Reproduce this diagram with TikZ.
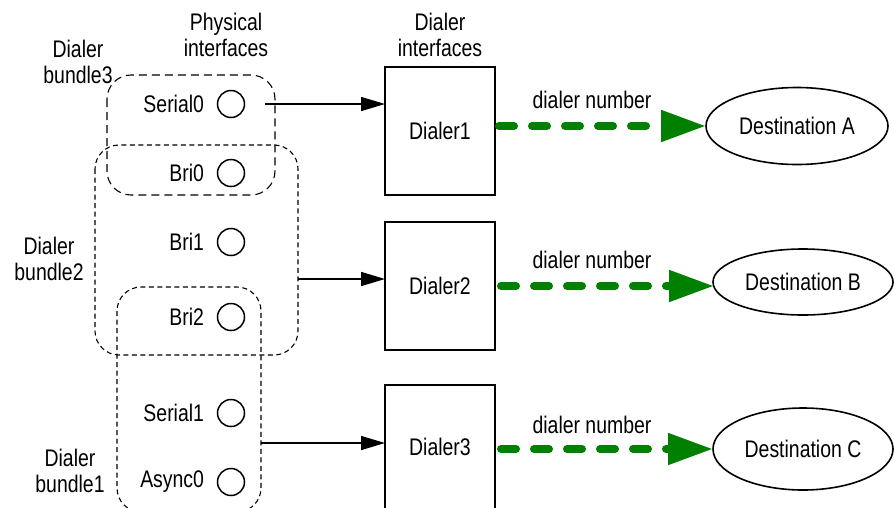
\documentclass[tikz,border=0pt]{standalone}
\usepackage{fontspec}
\setmainfont[FakeStretch=0.81]{Liberation Sans}
\usetikzlibrary{arrows.meta,shapes.geometric}
\definecolor{dgreen}{RGB}{0,128,0}
\begin{document}
\begin{tikzpicture}[x=1pt,y=-1pt,
  every node/.style={font=\fontsize{24}{26}\selectfont, inner sep=0pt, outer sep=0pt},
  port/.style={circle, draw, line width=1.5pt, minimum size=27pt},
  plabel/.style={anchor=east},
  dbox/.style={draw, line width=1.8pt, minimum width=110pt},
  dest/.style={ellipse, draw, line width=1.6pt},
  bundleA/.style={draw, line width=1.1pt, dash pattern=on 8pt off 5pt, rounded corners=24pt},
  bundleB/.style={draw, line width=1.1pt, dash pattern=on 5pt off 3.5pt, rounded corners=24pt},
  link/.style={line width=1.5pt, -{Triangle[length=24pt,width=14pt]}},
  call/.style={line width=8pt, dgreen, dash pattern=on 15pt off 18pt, line cap=round,
    -{Triangle[length=45pt,width=30pt]}},
]
\useasboundingbox (0,0) rectangle (894,507);
\clip (0,0) rectangle (894,507);

% headings
\node[align=center] (hphys) at (226,35) {Physical\\interfaces};
\node[align=center] (hdial) at (440,35) {Dialer\\interfaces};

% bundle boxes
\draw[bundleA] (107,75) rectangle (275,195);
\draw[bundleB] (95,145) rectangle (298,355);
\draw[bundleB] (117,287) rectangle (261,512);
\coordinate (b3e) at (265,104);
\coordinate (b2e) at (298,279);
\coordinate (b1e) at (261,443);

% bundle labels
\node[align=center] (lb3) at (78,62) {Dialer\\bundle3};
\node[align=center] (lb2) at (49,259) {Dialer\\bundle2};
\node[align=center] (lb1) at (70,471) {Dialer\\bundle1};

% ports
\node[port] (s0) at (231,104) {};
\node[port] (br0) at (231,173) {};
\node[port] (br1) at (231,242) {};
\node[port] (br2) at (231,317) {};
\node[port] (s1) at (231,413) {};
\node[port] (a0) at (231,482) {};
\node[plabel] (ls0) at (204,104) {Serial0};
\node[plabel] (lbr0) at (204,173) {Bri0};
\node[plabel] (lbr1) at (204,242) {Bri1};
\node[plabel] (lbr2) at (204,317) {Bri2};
\node[plabel] (ls1) at (204,413) {Serial1};
\node[plabel] (la0) at (204,482) {Async0};

% dialer boxes
\node[dbox, minimum height=128pt] (d1) at (440,131) {Dialer1};
\node[dbox, minimum height=128pt] (d2) at (440,286) {Dialer2};
\node[dbox, minimum height=124pt] (d3) at (440,447) {Dialer3};

% destinations
\node[dest, minimum width=182pt, minimum height=77pt] (da) at (797,126) {Destination A};
\node[dest, minimum width=180pt, minimum height=66pt] (db) at (803,282) {Destination B};
\node[dest, minimum width=180pt, minimum height=82pt] (dc) at (803,449) {Destination C};

% links
\draw[link] (b3e) -- (d1.west |- b3e);
\draw[link] (b2e) -- (d2.west |- b2e);
\draw[link] (b1e) -- (d3.west |- b1e);

% calls
\coordinate (c1) at (499,126);
\coordinate (c2) at (501,286);
\coordinate (c3) at (501,449);
\draw[call] (c1) -- (da.west |- c1);
\draw[call] (c2) -- ([xshift=1pt]db.west |- c2);
\draw[call] (c3) -- (dc.west |- c3);
\node (n1) at (592,100) {dialer number};
\node (n2) at (592,260) {dialer number};
\node (n3) at (592,425) {dialer number};
\end{tikzpicture}
\end{document}
